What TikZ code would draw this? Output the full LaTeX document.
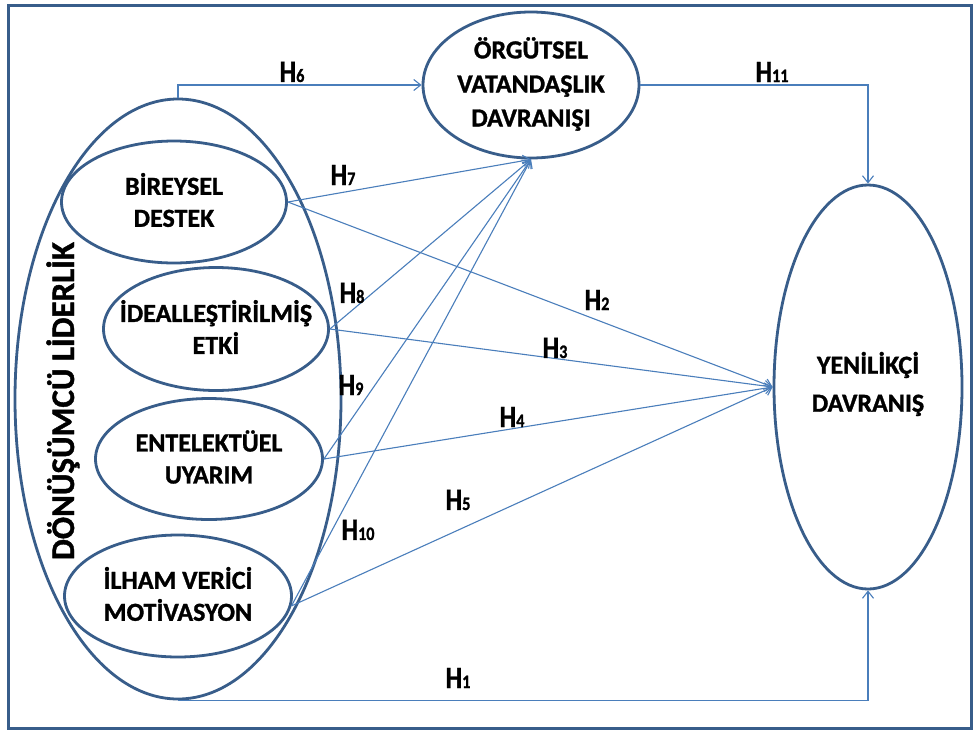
\documentclass[tikz,border=0pt]{standalone}
\usepackage{fontspec}
\setmainfont{Carlito}[BoldFeatures={FakeBold=1.2}]
\usetikzlibrary{shapes.geometric,arrows.meta}
\definecolor{outl}{HTML}{385D8A}
\definecolor{connc}{HTML}{4A7EBB}
\newcommand\hlab[1]{\scalebox{0.85}[1]{H{\fontsize{19}{19}\selectfont #1}}}
\begin{document}
\begin{tikzpicture}[x=1pt,y=-1pt,
  oval/.style={ellipse, draw=outl, line width=2.8pt, inner sep=0pt},
  lbl/.style={font=\bfseries\fontsize{26}{32}\selectfont, align=center, text=black},
  hl/.style={font=\bfseries\fontsize{31}{31}\selectfont, inner sep=0pt},
  link/.style={draw=connc, line width=1.1pt, -{Straight Barb[length=7pt,width=11pt]}}]
\useasboundingbox (0,0) rectangle (976,731);
\fill[white] (0,0) rectangle (976,731);
\draw[outl, line width=3pt] (8,5) rectangle (971,728);

% ellipses
\node[oval, minimum width=326pt, minimum height=600pt] (big) at (178,399) {};
\node[oval, minimum width=225pt, minimum height=122pt] (bd) at (174,202) {};
\node[oval, minimum width=225pt, minimum height=123pt] (ie) at (216,329) {};
\node[oval, minimum width=227pt, minimum height=121pt] (eu) at (209,459) {};
\node[oval, minimum width=227pt, minimum height=122pt] (ivm) at (178,596) {};
\node[oval, minimum width=216pt, minimum height=146pt] (ovd) at (531,85) {};
\node[oval, minimum width=188pt, minimum height=404pt] (yd) at (868,387) {};

% texts
\node[lbl] (bdt) at (174,200) {BİREYSEL\\DESTEK};
\node[lbl] (iet) at (216,327) {İDEALLEŞTİRİLMİŞ\\ETKİ};
\node[lbl] (eut) at (209,457) {ENTELEKTÜEL\\UYARIM};
\node[lbl] (ivmt) at (178,594) {İLHAM VERİCİ\\MOTİVASYON};
\node[lbl, font=\bfseries\fontsize{26}{34}\selectfont] (ovdt) at (531,84) {ÖRGÜTSEL\\VATANDAŞLIK\\DAVRANIŞI};
\node[lbl, font=\bfseries\fontsize{26}{38}\selectfont] (ydt) at (868,384) {YENİLİKÇİ\\DAVRANIŞ};
\node[rotate=90, anchor=base, font=\bfseries\fontsize{33}{33}\selectfont] (dl) at (74,401) {DÖNÜŞÜMCÜ LİDERLİK};

% connectors
\draw[link] (big.north) |- (ovd.west);
\draw[link] (ovd.east) -| (yd.north);
\draw[link] (big.south) -| (yd.south);
\draw[link] (bd.east) -- (ovd.south);
\draw[link] (ie.east) -- (ovd.south);
\draw[link] (eu.east) -- (ovd.south);
\draw[link] (ivm.-5) -- (ovd.south);
\draw[link] (bd.east) -- (yd.west);
\draw[link] (ie.east) -- (yd.west);
\draw[link] (eu.east) -- (yd.west);
\draw[link] (ivm.-5) -- (yd.west);

% labels
\node[hl] (h6) at (292,72) {\hlab{6}};
\node[hl] (h11) at (772,72) {\hlab{11}};
\node[hl] (h7) at (343,175) {\hlab{7}};
\node[hl] (h8) at (352,293) {\hlab{8}};
\node[hl] (h9) at (351,385) {\hlab{9}};
\node[hl] (h10) at (358,530) {\hlab{10}};
\node[hl] (h2) at (597,300) {\hlab{2}};
\node[hl] (h3) at (555,348) {\hlab{3}};
\node[hl] (h4) at (512,417) {\hlab{4}};
\node[hl] (h5) at (458,500) {\hlab{5}};
\node[hl] (h1) at (458,678) {\hlab{1}};
\end{tikzpicture}
\end{document}
